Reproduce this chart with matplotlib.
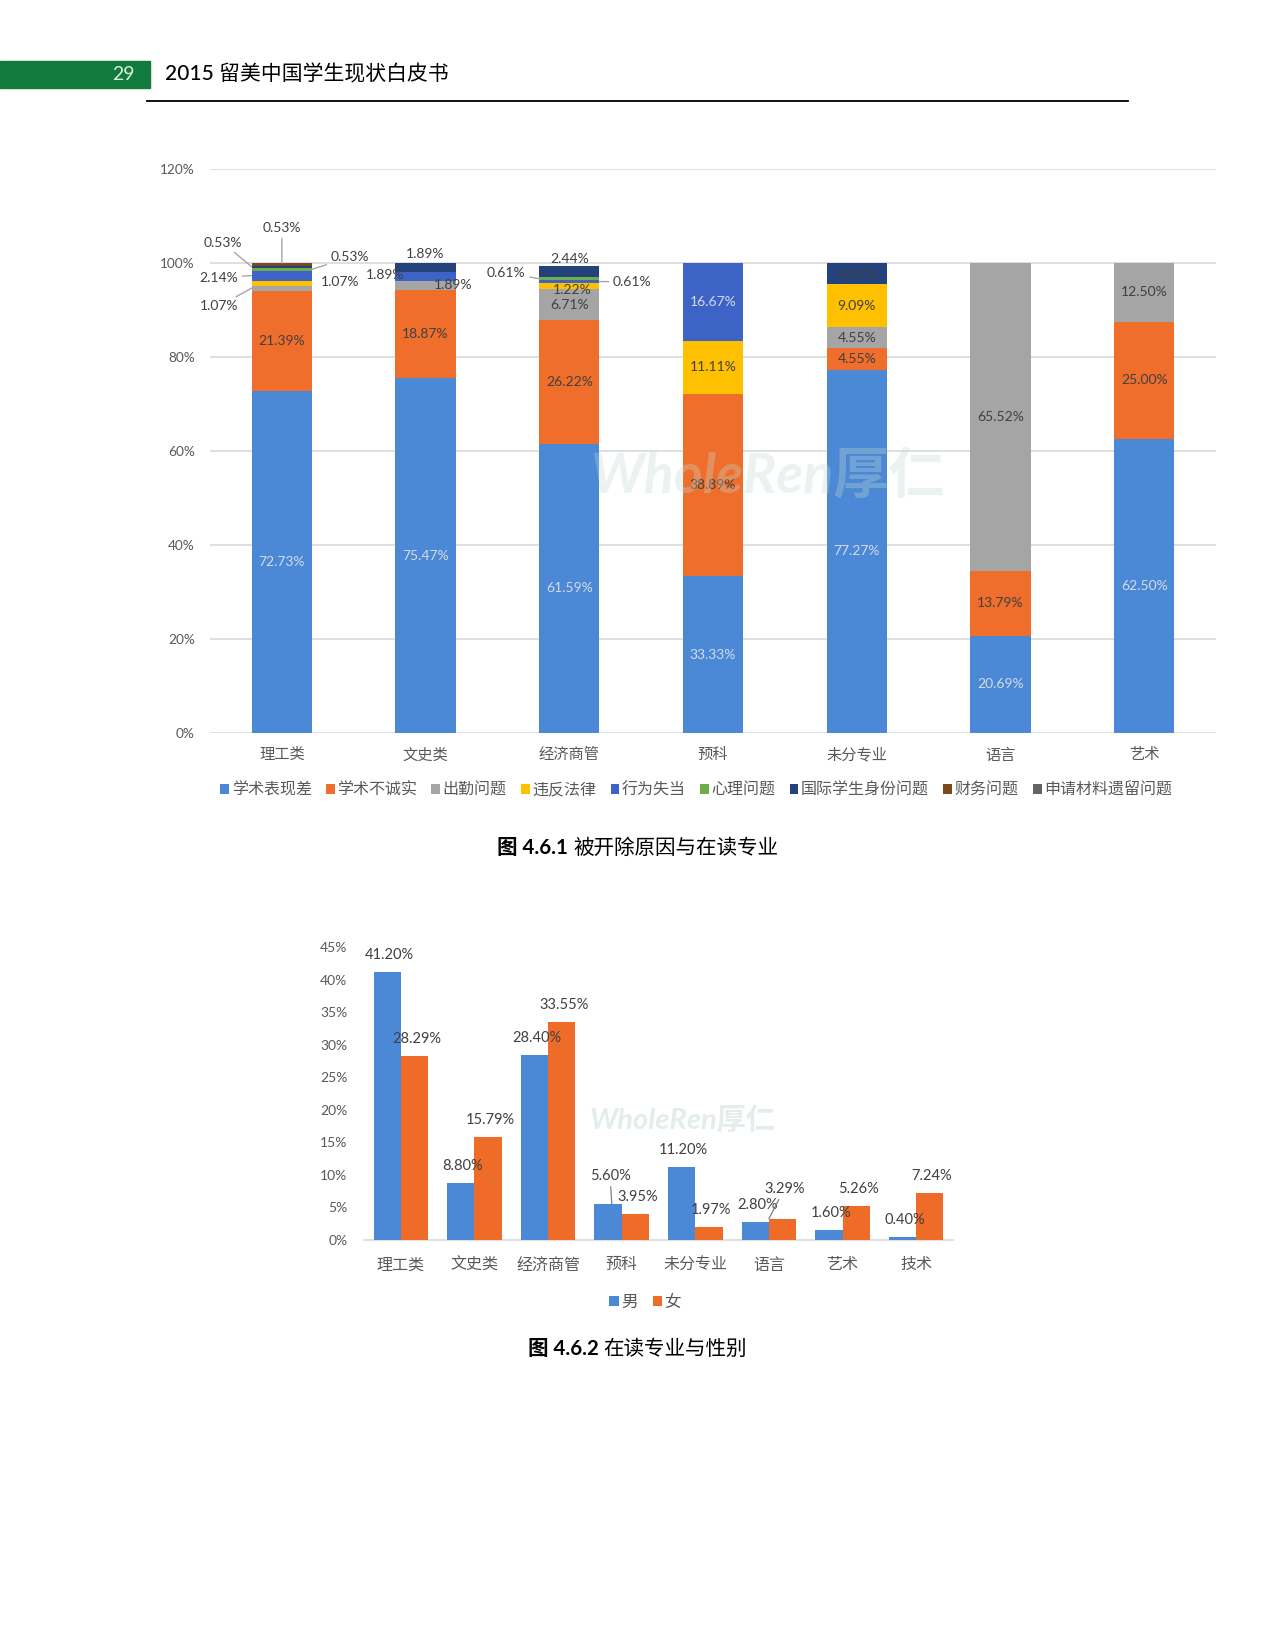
import matplotlib
matplotlib.use('Agg')
import matplotlib.pyplot as plt
import matplotlib.transforms as mtransforms
from matplotlib.patches import Rectangle
from matplotlib.lines import Line2D
import numpy as np

plt.rcParams['font.family'] = ['Lato', 'Noto Sans CJK SC', 'DejaVu Sans']

# ---------------- data: chart 1 ----------------
majors1 = ['理工类', '文史类', '经济商管', '预科', '未分专业', '语言', '艺术']
reasons = ['学术表现差', '学术不诚实', '出勤问题', '违反法律', '行为失当', '心理问题',
           '国际学生身份问题', '财务问题', '申请材料遗留问题']
academic_poor = [72.73, 75.47, 61.59, 33.33, 77.27, 20.69, 62.50]
dishonesty    = [21.39, 18.87, 26.22, 38.89, 4.55, 13.79, 25.00]
attendance    = [1.07, 1.89, 6.71, 0, 4.55, 65.52, 12.50]
law           = [1.07, 0, 1.22, 11.11, 9.09, 0, 0]
misconduct    = [2.14, 1.89, 0.61, 16.67, 0, 0, 0]
mental        = [0.53, 0, 0.61, 0, 0, 0, 0]
intl_status   = [0.53, 1.89, 2.44, 0, 4.55, 0, 0]
finance       = [0.53, 0, 0, 0, 0, 0, 0]
application   = [0, 0, 0, 0, 0, 0, 0]
y1_ticks = [0, 20, 40, 60, 80, 100, 120]

# ---------------- data: chart 2 ----------------
majors2 = ['理工类', '文史类', '经济商管', '预科', '未分专业', '语言', '艺术', '技术']
genders = ['男', '女']
male   = [41.20, 8.80, 28.40, 5.60, 11.20, 2.80, 1.60, 0.40]
female = [28.29, 15.79, 33.55, 3.95, 1.97, 3.29, 5.26, 7.24]
y2_ticks = [0, 5, 10, 15, 20, 25, 30, 35, 40, 45]

# ---------------- style ----------------
colors1 = ['#4B88D5', '#EF6E2C', '#A5A5A5', '#FFC000', '#3D63C6', '#70AD47',
           '#23417A', '#7A4A1E', '#636363']
c_male, c_female = '#4B88D5', '#EE6B28'
txt_gray = '#595959'
lbl_col = '#404040'
lbl_on_blue = '#D3DCEA'

W, H = 1275, 1650
fig = plt.figure(figsize=(W / 100, H / 100), dpi=100)

# ---------------- header ----------------
fig.patches.append(Rectangle((0, 1 - 88 / H), 150 / W, 27 / H, transform=fig.transFigure,
                             color='#127A3C', zorder=1))
fig.text(123 / W, 1 - 74 / H, '29', color='#D6F2DA', fontsize=14, ha='center', va='center')
fig.text(165 / W, 1 - 74 / H, '2015 留美中国学生现状白皮书', color='black', fontsize=15,
         ha='left', va='center', weight='medium')
fig.add_artist(Line2D([147 / W, 1128 / W], [1 - 101 / H] * 2, color='black', lw=1.3))

# ---------------- chart 1 ----------------
ax1 = fig.add_axes([210 / W, 1 - 733 / H, 1006 / W, (733 - 169) / H])
series = [academic_poor, dishonesty, attendance, law, misconduct, mental,
          intl_status, finance, application]
x1 = np.arange(len(majors1))
bw = 0.42
ax1.set_xlim(-0.5, len(majors1) - 0.5)
ax1.set_ylim(0, 1.2)
ax1.set_yticks(np.array(y1_ticks) / 100)
ax1.set_yticklabels([f'{t}%' for t in y1_ticks], fontsize=9.8, color=txt_gray)
ax1.set_xticks(x1)
ax1.set_xticklabels(majors1, fontsize=11, color=txt_gray)
ax1.tick_params(axis='both', length=0)
ax1.tick_params(axis='y', pad=11)
ax1.tick_params(axis='x', pad=11)
for s in ax1.spines.values():
    s.set_visible(False)
ax1.grid(axis='y', color='#D9D9D9', lw=1.2, zorder=0)
ax1.set_axisbelow(True)

# watermark (faint, over the bars as in the page scan)
ax1.text(0.555, 0.455, 'WholeRen厚仁', transform=ax1.transAxes, fontsize=40, style='italic',
         weight='bold', color='#C4D9D3', alpha=0.32, ha='center', va='center', zorder=6)

# special small-label placements: (series, category): (side, dx_px, dy_px, leader)
special = {
    (2, 0): ('L', -63, -18, True),
    (3, 0): ('R', 58, 1, False),
    (4, 0): ('L', -63, -2, True),
    (5, 0): ('R', 68, 12, True),
    (6, 0): ('L', -59, 24, True),
    (7, 0): ('T', 0, 36, True),
    (6, 1): ('C', 0, 13, False),
    (4, 1): ('C', -40, 1, False),
    (2, 1): ('C', 28, 0, False),
    (6, 2): ('C', 0, 13, False),
    (5, 2): ('L', -63, 6, True),
    (4, 2): ('R', 63, 0, True),
    (3, 2): ('C', 3, -4, False),
}

bottom = np.zeros(len(majors1))
for i, (name, vals, col) in enumerate(zip(reasons, series, colors1)):
    v = np.array(vals, dtype=float) / 100
    ax1.bar(x1, v, bw, bottom=bottom, color=col, label=name, zorder=3)
    for j in range(len(majors1)):
        if v[j] <= 0:
            continue
        yc = bottom[j] + v[j] / 2
        txt = f'{vals[j]:.2f}%'
        if (i, j) in special:
            side, dx, dy, leader = special[(i, j)]
            if side == 'L':
                xy = (x1[j] - bw / 2, yc)
            elif side == 'R':
                xy = (x1[j] + bw / 2, yc)
            elif side == 'T':
                xy = (x1[j], bottom[j] + v[j])
            else:
                xy = (x1[j], yc)
            tr = mtransforms.offset_copy(ax1.transData, fig=fig, x=dx, y=dy, units='dots')
            ap = dict(arrowstyle='-', color='#A6A6A6', lw=1.0, shrinkA=1, shrinkB=0) if leader else None
            ax1.annotate(txt, xy=xy, xycoords='data', xytext=(x1[j], yc), textcoords=tr,
                         ha='center', va='center', fontsize=10, color=lbl_col,
                         arrowprops=ap, zorder=5)
        else:
            c = lbl_on_blue if i in (0, 4) else lbl_col
            ax1.text(x1[j], yc, txt, ha='center', va='center', fontsize=10, color=c, zorder=5)
    bottom += v

fig.legend(*ax1.get_legend_handles_labels(), loc='center', bbox_to_anchor=(0.546, 1 - 790 / H),
           ncol=9, frameon=False, fontsize=11.5, handlelength=0.55, handleheight=0.55,
           handletextpad=0.15, columnspacing=0.9, labelcolor=txt_gray)

# ---------------- chart 2 ----------------
ax2 = fig.add_axes([364 / W, 1 - 1240 / H, 589 / W, (1240 - 947) / H])
x2 = np.arange(len(majors2))
gw = 0.37
ax2.set_xlim(-0.5, len(majors2) - 0.5)
ax2.set_ylim(0, 45)
ax2.set_yticks(y2_ticks)
ax2.set_yticklabels([f'{t}%' for t in y2_ticks], fontsize=10, color=txt_gray)
ax2.set_xticks(x2)
ax2.set_xticklabels(majors2, fontsize=11.5, color=txt_gray)
ax2.tick_params(axis='both', length=0)
ax2.tick_params(axis='y', pad=12)
ax2.tick_params(axis='x', pad=13)
for s in ['top', 'right', 'left']:
    ax2.spines[s].set_visible(False)
ax2.spines['bottom'].set_color('#D9D9D9')
ax2.spines['bottom'].set_linewidth(1.2)

ax2.text(0.54, 0.41, 'WholeRen厚仁', transform=ax2.transAxes, fontsize=21, style='italic',
         weight='bold', color='#C4D9D3', alpha=0.45, ha='center', va='center', zorder=6)

ax2.bar(x2 - gw / 2, male, gw, color=c_male, label=genders[0], zorder=3)
ax2.bar(x2 + gw / 2, female, gw, color=c_female, label=genders[1], zorder=3)

raised = {(0, 3): (2, 28, True), (1, 5): (2, 30, True)}
for g, vals in enumerate([male, female]):
    for j, val in enumerate(vals):
        xc = x2[j] + (gw / 2 if g else -gw / 2)
        dx, dy, leader = raised.get((g, j), (2, 17, False))
        tr = mtransforms.offset_copy(ax2.transData, fig=fig, x=dx, y=dy, units='dots')
        if leader:
            xy = (xc - gw / 2 if g else xc + 0.05, val)
            ap = dict(arrowstyle='-', color='#7F7F7F', lw=0.9, shrinkA=1, shrinkB=0)
        else:
            xy, ap = (xc, val), None
        ax2.annotate(f'{val:.2f}%', xy=xy, xycoords='data', xytext=(xc, val), textcoords=tr,
                     ha='center', va='center', fontsize=10.5, color=lbl_col, arrowprops=ap,
                     zorder=5)

fig.legend(*ax2.get_legend_handles_labels(), loc='center', bbox_to_anchor=(0.506, 1 - 1302 / H),
           ncol=2, frameon=False, fontsize=12, handlelength=0.55, handleheight=0.55,
           handletextpad=0.15, columnspacing=0.9, labelcolor=txt_gray)

# ---------------- captions ----------------
fig.canvas.draw()
renderer = fig.canvas.get_renderer()


def caption(bold_part, rest, ycen):
    t1 = fig.text(0, ycen, bold_part, fontsize=14.8, weight='bold', ha='left', va='center')
    t2 = fig.text(0, ycen, rest, fontsize=14.8, ha='left', va='center')
    w1 = t1.get_window_extent(renderer).width
    w2 = t2.get_window_extent(renderer).width
    x0 = (W - (w1 + w2)) / 2
    t1.set_x(x0 / W)
    t2.set_x((x0 + w1) / W)


caption('图 4.6.1 ', '被开除原因与在读专业', 1 - 848 / H)
caption('图 4.6.2 ', '在读专业与性别', 1 - 1349 / H)

fig.savefig('out.png', dpi=100, facecolor='white')
